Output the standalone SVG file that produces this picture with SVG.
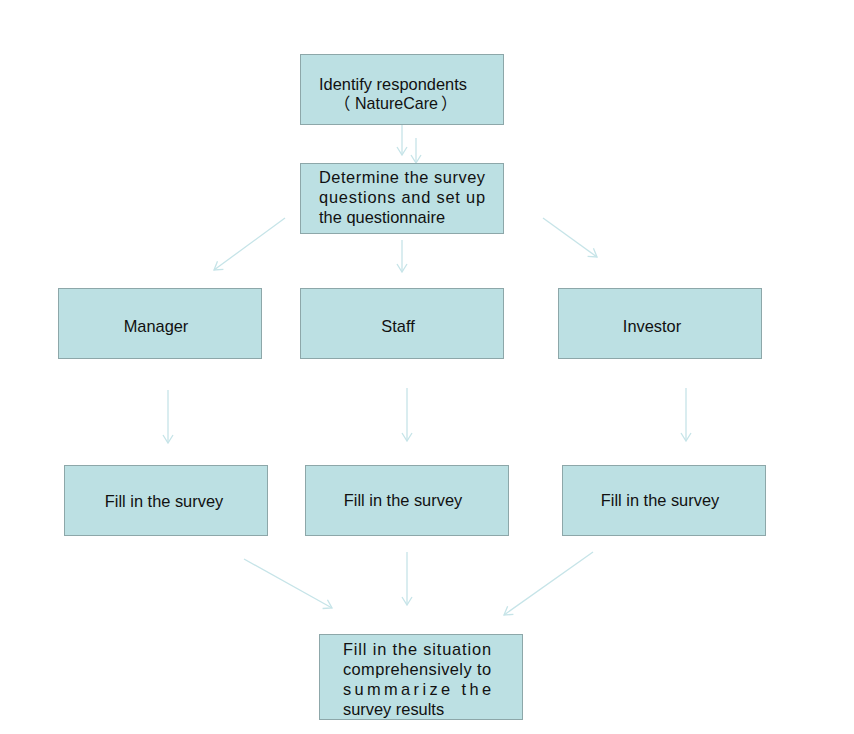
<svg xmlns="http://www.w3.org/2000/svg" width="854" height="734" viewBox="0 0 854 734">
<style>
.box{fill:#BCE0E3;stroke:#8DA7A9;stroke-width:1}
.t{font-family:"Liberation Sans","Noto Sans CJK SC",Arial,sans-serif;font-size:16.4px;fill:#111}
.c{text-anchor:middle}
.arr{stroke:#C6E4E8;stroke-width:1.3;fill:none;marker-end:url(#ah)}
</style>
<defs>
<marker id="ah" markerWidth="12" markerHeight="12" refX="10" refY="6" orient="auto" markerUnits="userSpaceOnUse">
<path d="M2,1 L10,6 L2,11" fill="none" stroke="#C6E4E8" stroke-width="1.3"/>
</marker>
</defs>
<rect width="854" height="734" fill="#fff"/>
<g id="connectors">
<line class="arr" x1="402" y1="125" x2="402" y2="155"/>
<line class="arr" x1="416" y1="138" x2="416" y2="163"/>
<line class="arr" x1="285" y1="218" x2="214" y2="270"/>
<line class="arr" x1="402" y1="240" x2="402" y2="272"/>
<line class="arr" x1="543" y1="218" x2="597" y2="257"/>
<line class="arr" x1="168" y1="390" x2="168" y2="443"/>
<line class="arr" x1="407" y1="388" x2="407" y2="441"/>
<line class="arr" x1="686" y1="388" x2="686" y2="441"/>
<line class="arr" x1="244" y1="559" x2="332" y2="608"/>
<line class="arr" x1="407" y1="552" x2="407" y2="605"/>
<line class="arr" x1="593" y1="552" x2="504" y2="615"/>
</g>
<g id="n1">
<rect class="box" x="300.5" y="54.5" width="203" height="70"/>
<text class="t" x="319" y="90" textLength="148" lengthAdjust="spacing">Identify respondents</text>
<text class="t" x="334" y="109">（</text>
<text class="t" x="355" y="109" textLength="83" lengthAdjust="spacingAndGlyphs">NatureCare</text>
<text class="t" x="441" y="109">）</text>
</g>
<g id="n2">
<rect class="box" x="300.5" y="163.5" width="203" height="70"/>
<text class="t" x="319" y="183" textLength="166" lengthAdjust="spacing">Determine the survey</text>
<text class="t" x="319" y="203" textLength="166" lengthAdjust="spacing">questions and set up</text>
<text class="t" x="319" y="223" textLength="126" lengthAdjust="spacing">the questionnaire</text>
</g>
<g id="n3">
<rect class="box" x="58.5" y="288.5" width="203" height="70"/>
<text class="t c" x="156" y="332">Manager</text>
</g>
<g id="n4">
<rect class="box" x="300.5" y="288.5" width="203" height="70"/>
<text class="t c" x="398" y="332">Staff</text>
</g>
<g id="n5">
<rect class="box" x="558.5" y="288.5" width="203" height="70"/>
<text class="t c" x="652" y="332">Investor</text>
</g>
<g id="n6">
<rect class="box" x="64.5" y="465.5" width="203" height="70"/>
<text class="t c" x="164" y="507">Fill in the survey</text>
</g>
<g id="n7">
<rect class="box" x="305.5" y="465.5" width="203" height="70"/>
<text class="t c" x="403" y="506">Fill in the survey</text>
</g>
<g id="n8">
<rect class="box" x="562.5" y="465.5" width="203" height="70"/>
<text class="t c" x="660" y="506">Fill in the survey</text>
</g>
<g id="n9">
<rect class="box" x="319.5" y="634.5" width="203" height="85"/>
<text class="t" x="343" y="655" textLength="148" lengthAdjust="spacing">Fill in the situation</text>
<text class="t" x="343" y="675" textLength="148" lengthAdjust="spacing">comprehensively to</text>
<text class="t" x="343" y="695" textLength="148" lengthAdjust="spacing">summarize the</text>
<text class="t" x="343" y="715">survey results</text>
</g>
</svg>
